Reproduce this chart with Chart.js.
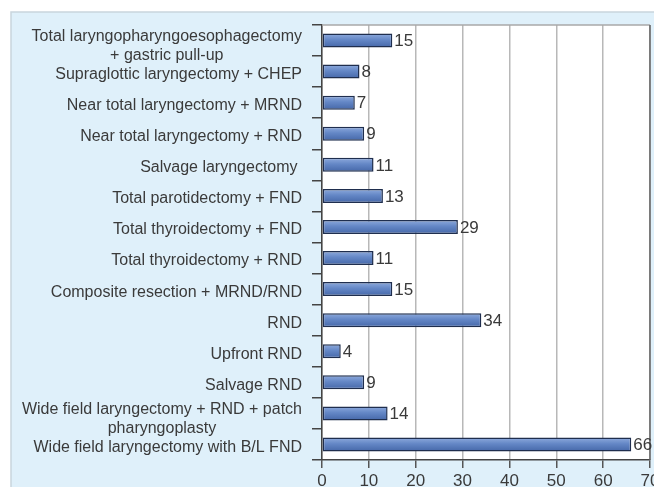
<!DOCTYPE html>
<html>
<head>
<meta charset="utf-8">
<script src="https://cdn.jsdelivr.net/npm/chart.js@4"></script>
<style>
  html, body { margin: 0; padding: 0; background: #fff; overflow: hidden; }
  #wrap { width: 680px; height: 487px; position: relative; }
</style>
</head>
<body>
<div id="wrap"><canvas id="chart"></canvas></div>
<script>
// Procedures and case counts (top to bottom)
const procedures = [
  ["Total laryngopharyngoesophagectomy", "+ gastric pull-up"],
  "Supraglottic laryngectomy + CHEP",
  "Near total laryngectomy + MRND",
  "Near total laryngectomy + RND",
  "Salvage laryngectomy ",
  "Total parotidectomy + FND",
  "Total thyroidectomy + FND",
  "Total thyroidectomy + RND",
  "Composite resection + MRND/RND",
  "RND",
  "Upfront RND",
  "Salvage RND",
  ["Wide field laryngectomy + RND + patch", "pharyngoplasty"],
  "Wide field laryngectomy with B/L FND"
];
const cases = [15, 8, 7, 9, 11, 13, 29, 11, 15, 34, 4, 9, 14, 66];
const xTicks = [0, 10, 20, 30, 40, 50, 60, 70];

const FONT = 'Arial, "Liberation Sans", sans-serif';
const TEXT = '#3a3a3a';

// light blue panel behind everything, white plot area
const panelBg = {
  id: 'panelBg',
  beforeDraw(chart) {
    const ctx = chart.ctx, a = chart.chartArea;
    ctx.save();
    ctx.fillStyle = '#fff';
    ctx.fillRect(0, 0, chart.width, chart.height);
    ctx.fillStyle = '#dff0fa';
    ctx.fillRect(11, 12, chart.width, chart.height);
    ctx.strokeStyle = '#c9d5dd';
    ctx.lineWidth = 1.5;
    ctx.beginPath();
    ctx.moveTo(11, chart.height);
    ctx.lineTo(11, 12);
    ctx.lineTo(chart.width, 12);
    ctx.stroke();
    ctx.fillStyle = '#fff';
    ctx.fillRect(a.left, a.top, a.right - a.left, a.bottom - a.top);
    ctx.restore();
  }
};

// category labels (multi-line ones centred), value labels, frame
const extras = {
  id: 'extras',
  afterDraw(chart) {
    const ctx = chart.ctx, a = chart.chartArea, y = chart.scales.y;
    ctx.save();
    // frame top + right
    ctx.strokeStyle = '#a8a8a8';
    ctx.lineWidth = 1.5;
    ctx.beginPath();
    ctx.moveTo(a.left, a.top);
    ctx.lineTo(a.right, a.top);
    ctx.stroke();
    ctx.strokeStyle = '#666';
    ctx.beginPath();
    ctx.moveTo(a.right, a.top);
    ctx.lineTo(a.right, a.bottom);
    ctx.stroke();

    ctx.font = '16px ' + FONT;
    ctx.fillStyle = TEXT;
    ctx.textBaseline = 'middle';
    const rightEdge = a.left - 20;
    procedures.forEach((lab, i) => {
      const cy = y.getPixelForValue(i) + 3;
      if (Array.isArray(lab)) {
        const w = Math.max(...lab.map(s => ctx.measureText(s).width));
        const cx = rightEdge - w / 2;
        const lh = 19;
        const y0 = cy + 3 - (lab.length - 1) * lh / 2;
        ctx.textAlign = 'center';
        lab.forEach((s, k) => ctx.fillText(s, cx, y0 + k * lh));
      } else {
        ctx.textAlign = 'right';
        ctx.fillText(lab, rightEdge, cy);
      }
    });

    // value labels
    const meta = chart.getDatasetMeta(0);
    ctx.font = '17px ' + FONT;
    ctx.textAlign = 'left';
    meta.data.forEach((bar, i) => {
      ctx.fillText(String(cases[i]), bar.x + 2, bar.y + 1);
    });
    ctx.restore();
  }
};

new Chart(document.getElementById('chart'), {
  type: 'bar',
  data: {
    labels: procedures,
    datasets: [{
      data: cases,
      backgroundColor(c) {
        const ch = c.chart;
        if (!ch.chartArea || !ch.scales.y) return '#5f82c3';
        const py = ch.scales.y.getPixelForValue(c.dataIndex);
        const g = ch.ctx.createLinearGradient(0, py - 7, 0, py + 7);
        g.addColorStop(0, '#8fabdd');
        g.addColorStop(0.45, '#6487c6');
        g.addColorStop(1, '#4567a8');
        return g;
      },
      borderColor: '#1f2e4e',
      borderWidth: 1.5,
      borderSkipped: false,
      barPercentage: 0.45,
      categoryPercentage: 1
    }]
  },
  options: {
    indexAxis: 'y',
    responsive: true,
    maintainAspectRatio: false,
    animation: false,
    layout: { padding: { top: 25, right: 30, left: 0, bottom: 0 } },
    plugins: {
      legend: { display: false },
      tooltip: { enabled: false }
    },
    scales: {
      x: {
        min: 0,
        max: 70,
        afterBuildTicks(scale) { scale.ticks = xTicks.map(v => ({ value: v })); },
        afterFit(scale) { scale.height = 27; },
        grid: {
          color: '#b8b8b8',
          lineWidth: 1.5,
          tickLength: 8,
          tickColor: '#555'
        },
        border: { color: '#444', width: 1.5 },
        ticks: {
          color: TEXT,
          font: { family: FONT, size: 17 },
          padding: 3,
          maxRotation: 0
        }
      },
      y: {
        afterFit(scale) { scale.width = 322; },
        grid: {
          offset: true,
          drawOnChartArea: false,
          tickLength: 10,
          tickColor: '#444',
          lineWidth: 1.5
        },
        border: { color: '#444', width: 1.5 },
        ticks: { display: false }
      }
    }
  },
  plugins: [panelBg, extras]
});
</script>
</body>
</html>
